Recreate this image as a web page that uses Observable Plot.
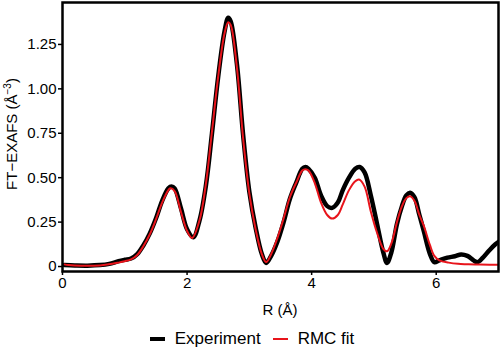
<!DOCTYPE html>
<html><head><meta charset="utf-8">
<script src="https://cdn.jsdelivr.net/npm/d3@7"></script>
<script src="https://cdn.jsdelivr.net/npm/@observablehq/plot@0.6"></script>
<style>
body{margin:0;background:#fff;font-family:"Liberation Sans",Arial,sans-serif;}
#chart svg{display:block;}
#legend{display:flex;justify-content:center;align-items:center;height:34px;font-size:17px;color:#000;margin-left:4px;}
.sw{display:inline-block;width:15px;margin-right:10px;}
.item{display:flex;align-items:center;margin:0 6px;}
</style></head><body>
<div id="chart"></div>
<div id="legend"></div>
<script>
// Experiment (black)
const expR = [0.03,0.2,0.4,0.6,0.75,0.9,1.0,1.1,1.2,1.3,1.4,1.5,1.6,1.7,1.75,1.8,1.9,2.0,2.1,2.2,2.3,2.4,2.5,2.6,2.66,2.7,2.8,2.9,3.0,3.1,3.2,3.27,3.35,3.45,3.55,3.65,3.75,3.85,3.9,3.95,4.05,4.15,4.25,4.33,4.42,4.5,4.6,4.7,4.77,4.85,4.95,5.05,5.15,5.21,5.28,5.37,5.45,5.52,5.58,5.65,5.73,5.8,5.9,5.97,6.05,6.18,6.3,6.4,6.5,6.6,6.66,6.75,6.85,6.95,7.05];
const expV = [0.008,0.006,0.005,0.008,0.015,0.03,0.038,0.045,0.07,0.12,0.185,0.27,0.37,0.44,0.45,0.44,0.33,0.21,0.165,0.26,0.45,0.75,1.07,1.32,1.40,1.38,1.14,0.74,0.42,0.22,0.07,0.02,0.06,0.14,0.25,0.38,0.47,0.55,0.56,0.55,0.50,0.40,0.34,0.33,0.36,0.43,0.50,0.55,0.56,0.53,0.40,0.24,0.08,0.02,0.08,0.24,0.34,0.40,0.415,0.39,0.29,0.2,0.07,0.025,0.035,0.05,0.058,0.068,0.06,0.035,0.024,0.05,0.09,0.125,0.15];
// RMC fit (red)
const fitR = [0.03,0.1,0.3,0.6,0.8,0.9,1.0,1.1,1.2,1.3,1.4,1.5,1.6,1.7,1.73,1.8,1.9,2.0,2.08,2.2,2.3,2.4,2.5,2.6,2.66,2.7,2.8,2.9,3.0,3.1,3.2,3.27,3.35,3.45,3.55,3.65,3.75,3.85,3.9,3.95,4.05,4.15,4.25,4.33,4.42,4.5,4.6,4.7,4.76,4.85,4.95,5.05,5.15,5.21,5.28,5.37,5.45,5.52,5.58,5.65,5.73,5.8,5.9,5.97,6.05,6.2,6.35,6.5,6.7,7.05];
const fitV = [0.012,0.008,0.004,0.006,0.015,0.022,0.03,0.04,0.065,0.115,0.18,0.265,0.36,0.43,0.44,0.425,0.31,0.2,0.16,0.26,0.46,0.76,1.07,1.31,1.375,1.36,1.12,0.72,0.41,0.21,0.07,0.025,0.07,0.16,0.27,0.39,0.47,0.54,0.547,0.54,0.47,0.36,0.29,0.27,0.29,0.35,0.43,0.48,0.49,0.45,0.31,0.19,0.10,0.086,0.13,0.25,0.34,0.385,0.395,0.37,0.29,0.23,0.12,0.06,0.035,0.022,0.015,0.013,0.011,0.01];

const xTicks = [0, 2, 4, 6];
const yTicks = [0, 0.25, 0.5, 0.75, 1, 1.25];
const yTickLabels = ["0", "0.25", "0.50", "0.75", "1.00", "1.25"];
const seriesNames = ["Experiment", "RMC fit"];
const seriesColors = ["#000000", "#e8141b"];

const exp = expR.map((r, i) => ({r, v: expV[i]}));
const fit = fitR.map((r, i) => ({r, v: fitV[i]}));

const plot = Plot.plot({
  width: 500,
  height: 322,
  marginLeft: 62,
  marginRight: 2,
  marginTop: 2,
  marginBottom: 51,
  style: {fontSize: "15px", fontFamily: "'Liberation Sans', Arial, sans-serif", color: "#000", background: "#fff"},
  x: {domain: [0, 7]},
  y: {domain: [-0.028, 1.486]},
  marks: [
    Plot.line(exp, {x: "r", y: "v", stroke: seriesColors[0], strokeWidth: 4.5, curve: "catmull-rom", clip: true}),
    Plot.line(fit, {x: "r", y: "v", stroke: seriesColors[1], strokeWidth: 2, curve: "catmull-rom", clip: true}),
    Plot.frame({stroke: "#000", strokeWidth: 2.5}),
    Plot.axisX(xTicks, {tickSize: 4, tickPadding: 2, label: null, stroke: "#000", strokeWidth: 1.5}),
    Plot.axisY(yTicks, {tickSize: 4, tickPadding: 2, label: null, stroke: "#000", strokeWidth: 1.5,
      tickFormat: d => yTickLabels[yTicks.indexOf(d)]})
  ]
});
document.getElementById("chart").appendChild(plot);

const svg = d3.select(plot);
svg.append("text").attr("x", 280).attr("y", 315).attr("text-anchor", "middle")
  .attr("font-size", 15).attr("fill", "#000").text("R (Å)");
const yl = svg.append("text").attr("transform", "translate(17,134) rotate(-90)")
  .attr("text-anchor", "middle").attr("font-size", 15).attr("fill", "#000");
yl.append("tspan").text("FT\u2212EXAFS (Å");
yl.append("tspan").attr("font-size", 10).attr("dy", -6).text("\u22123");
yl.append("tspan").attr("dy", 6).text(")");

const legend = d3.select("#legend");
seriesNames.forEach((name, i) => {
  const it = legend.append("div").attr("class", "item");
  it.append("span").attr("class", "sw")
    .style("height", i === 0 ? "4px" : "2px")
    .style("background", seriesColors[i]);
  it.append("span").text(name);
});
</script>
</body></html>
